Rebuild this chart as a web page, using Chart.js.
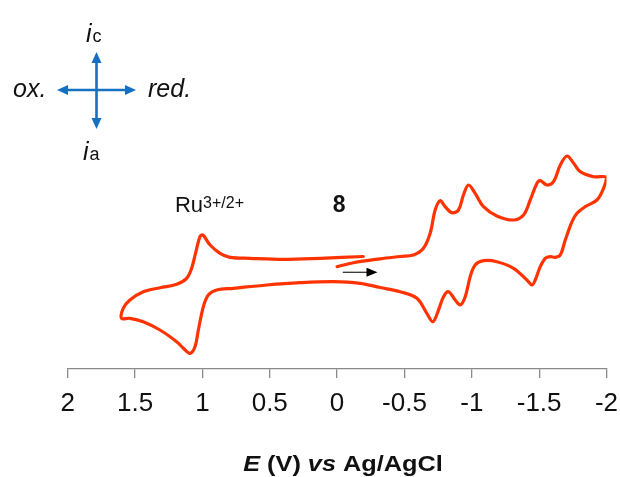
<!DOCTYPE html>
<html>
<head>
<meta charset="utf-8">
<script src="https://cdn.jsdelivr.net/npm/chart.js@4.4.1/dist/chart.umd.min.js"></script>
<style>
  html, body { margin: 0; padding: 0; background: #ffffff; }
  #wrap { width: 620px; height: 477px; position: relative; }
</style>
</head>
<body>
<div id="wrap"><canvas id="cv"></canvas></div>
<script>
// Cyclic voltammogram of complex 8.
// E in V vs Ag/AgCl, i in relative units (cathodic current positive, drawn upward).

// Scan 1: start near 0 V, sweep toward -2.0 V (reduction waves)
const scan1E = [0.0, -0.121, -0.319, -0.468, -0.567, -0.641, -0.691, -0.728, -0.765, -0.802,
  -0.852, -0.901, -0.938, -0.975, -1.025, -1.087, -1.186, -1.310, -1.384, -1.434,
  -1.484, -1.508, -1.558, -1.607, -1.657, -1.707, -1.756, -1.805, -1.904, -2.0];
const scan1I = [0.33, 0.73, 1.12, 1.35, 1.50, 2.17, 3.67, 6.00, 6.93, 6.33,
  5.73, 6.00, 7.50, 8.50, 7.67, 6.33, 5.40, 5.00, 5.50, 7.00,
  8.67, 8.93, 8.50, 8.83, 10.50, 11.40, 10.67, 9.83, 9.33, 9.27];

// Scan 2: reverse from -2.0 V up to +1.6 V (re-oxidation waves, Ru2+ -> Ru3+)
const scan2E = [-1.978, -1.929, -1.842, -1.781, -1.744, -1.694, -1.657, -1.620, -1.582, -1.545,
  -1.508, -1.471, -1.447, -1.409, -1.310, -1.186, -1.087, -1.025, -0.988, -0.951,
  -0.914, -0.877, -0.827, -0.790, -0.753, -0.711, -0.666, -0.592, -0.468, -0.319,
  -0.171, 0.027, 0.275, 0.522, 0.770, 0.894, 0.956, 0.993, 1.030, 1.055,
  1.092, 1.141, 1.191, 1.315, 1.439, 1.538, 1.6];
const scan2I = [8.17, 7.00, 6.33, 5.67, 4.83, 3.00, 1.50, 1.27, 1.33, 1.17,
  0.33, -1.00, -1.50, -1.00, 0.17, 0.83, 0.93, 0.50, -0.67, -2.67,
  -3.50, -3.00, -2.17, -2.67, -4.00, -5.17, -4.33, -2.83, -2.17, -1.75,
  -1.33, -1.17, -1.27, -1.50, -1.83, -2.00, -2.50, -3.67, -6.00, -7.67,
  -8.33, -7.83, -7.17, -6.00, -5.17, -4.83, -4.83];

// Scan 3: from +1.6 V back toward 0 V (Ru3+ -> Ru2+ reduction)
const scan3E = [1.588, 1.538, 1.439, 1.315, 1.191, 1.117, 1.080, 1.048, 1.018, 0.996,
  0.943, 0.869, 0.795, 0.646, 0.399, 0.126, -0.195];
const scan3I = [-3.83, -3.00, -2.17, -1.77, -1.43, -0.83, 0.17, 1.83, 3.33, 3.50,
  2.50, 1.67, 1.27, 1.17, 1.07, 1.17, 1.35];

// Potential axis ticks
const tickValues = [2, 1.5, 1, 0.5, 0, -0.5, -1, -1.5, -2];
const tickLabels = ['2', '1.5', '1', '0.5', '0', '-0.5', '-1', '-1.5', '-2'];

const FONT = "'Liberation Sans', Arial, sans-serif";
const CURVE = '#FF3300';
const BLUE = '#1570C2';
const INK = '#111111';

const toPoints = (es, is) => es.map((e, k) => ({ x: e, y: is[k] }));
const cvPoints = [].concat(
  toPoints(scan1E, scan1I),
  toPoints(scan2E, scan2I),
  toPoints(scan3E, scan3I)
);

// draws a row of text pieces with individual fonts/offsets
function drawRuns(ctx, parts, x, y, align, sx) {
  sx = sx || 1;
  let total = 0;
  parts.forEach(p => { ctx.font = p.font; p.w = ctx.measureText(p.t).width; total += p.w; });
  ctx.save();
  ctx.translate(x, y);
  ctx.scale(sx, 1);
  let cx = align === 'center' ? -total / 2 : 0;
  ctx.textBaseline = 'alphabetic';
  ctx.textAlign = 'left';
  parts.forEach(p => {
    ctx.font = p.font;
    ctx.fillStyle = p.color || INK;
    ctx.fillText(p.t, cx + (p.dx || 0), p.dy || 0);
    cx += p.w + (p.dx || 0);
  });
  ctx.restore();
}

function arrowHead(ctx, x, y, dx, dy, len, half) {
  // tip at (x,y), pointing along (dx,dy)
  const px = -dy, py = dx;
  ctx.beginPath();
  ctx.moveTo(x, y);
  ctx.lineTo(x - dx * len + px * half, y - dy * len + py * half);
  ctx.lineTo(x - dx * len - px * half, y - dy * len - py * half);
  ctx.closePath();
  ctx.fill();
}

const decor = {
  id: 'decor',
  afterDraw(chart) {
    const ctx = chart.ctx;
    const xs = chart.scales.x, ys = chart.scales.y;

    // axis title
    drawRuns(ctx, [
      { t: 'E', font: 'italic bold 22px ' + FONT },
      { t: ' (V) ', font: 'bold 22px ' + FONT },
      { t: 'vs', font: 'italic bold 22px ' + FONT },
      { t: ' Ag/AgCl', font: 'bold 22px ' + FONT }
    ], 343, 470.5, 'center', 1.15);

    // wave labels
    drawRuns(ctx, [
      { t: 'Ru', font: '22px ' + FONT },
      { t: '3+/2+', font: '16px ' + FONT, dy: -3.5 }
    ], xs.getPixelForValue(1.204), ys.getPixelForValue(5.83), 'left');
    drawRuns(ctx, [{ t: '8', font: 'bold 23px ' + FONT }],
      xs.getPixelForValue(-0.015), ys.getPixelForValue(5.83), 'center');

    // scan direction arrow
    const ay = ys.getPixelForValue(-0.23);
    const a0 = xs.getPixelForValue(-0.042), a1 = xs.getPixelForValue(-0.30);
    ctx.save();
    ctx.strokeStyle = '#333333';
    ctx.fillStyle = '#000000';
    ctx.lineWidth = 1.3;
    ctx.beginPath();
    ctx.moveTo(a0, ay);
    ctx.lineTo(a1 - 8, ay);
    ctx.stroke();
    arrowHead(ctx, a1, ay, 1, 0, 11, 4.5);
    ctx.restore();

    // current / direction key
    const cx = 96.5, cy = 90;
    ctx.save();
    ctx.strokeStyle = BLUE;
    ctx.fillStyle = BLUE;
    ctx.lineWidth = 2.6;
    ctx.beginPath();
    ctx.moveTo(cx, 60); ctx.lineTo(cx, 121);
    ctx.moveTo(65, cy); ctx.lineTo(128, cy);
    ctx.stroke();
    arrowHead(ctx, cx, 52, 0, -1, 11, 5);
    arrowHead(ctx, cx, 129, 0, 1, 11, 5);
    arrowHead(ctx, 57, cy, -1, 0, 11, 5);
    arrowHead(ctx, 136, cy, 1, 0, 11, 5);
    ctx.restore();

    drawRuns(ctx, [
      { t: 'i', font: 'italic 25px ' + FONT },
      { t: 'c', font: '18px ' + FONT, dx: 1, dy: 0.5 }
    ], 86, 41.5, 'left');
    drawRuns(ctx, [
      { t: 'i', font: 'italic 25px ' + FONT },
      { t: 'a', font: '18px ' + FONT, dx: 1, dy: 0.5 }
    ], 83, 159.5, 'left');
    drawRuns(ctx, [{ t: 'ox.', font: 'italic 25px ' + FONT }], 13, 96.5, 'left');
    drawRuns(ctx, [{ t: 'red.', font: 'italic 25px ' + FONT }], 148, 96.5, 'left');
  }
};

new Chart(document.getElementById('cv'), {
  type: 'line',
  data: {
    datasets: [{
      data: cvPoints,
      borderColor: CURVE,
      borderWidth: 3.2,
      pointRadius: 0,
      fill: false,
      tension: 0.35,
      borderCapStyle: 'round',
      borderJoinStyle: 'round'
    }]
  },
  options: {
    responsive: true,
    maintainAspectRatio: false,
    animation: false,
    parsing: true,
    layout: { padding: { top: 149, left: 67.7, right: 13.5, bottom: 0 } },
    plugins: { legend: { display: false }, tooltip: { enabled: false } },
    scales: {
      x: {
        type: 'linear',
        min: -2, max: 2,
        reverse: true,
        afterBuildTicks: s => { s.ticks = tickValues.map(v => ({ value: v })); },
        afterFit: s => { s.height = 108; s.paddingLeft = 0; s.paddingRight = 0; },
        grid: { display: true, drawOnChartArea: false, drawTicks: true, tickLength: 9, color: '#8a8a8a', lineWidth: 1.3 },
        border: { display: true, color: '#8a8a8a', width: 1.3 },
        ticks: {
          padding: 10,
          color: INK,
          font: { family: FONT, size: 26 },
          maxRotation: 0,
          autoSkip: false,
          callback: v => tickLabels[tickValues.indexOf(v)]
        }
      },
      y: {
        type: 'linear',
        min: -9.9, max: 12.1,
        display: false
      }
    }
  },
  plugins: [decor]
});
</script>
</body>
</html>
